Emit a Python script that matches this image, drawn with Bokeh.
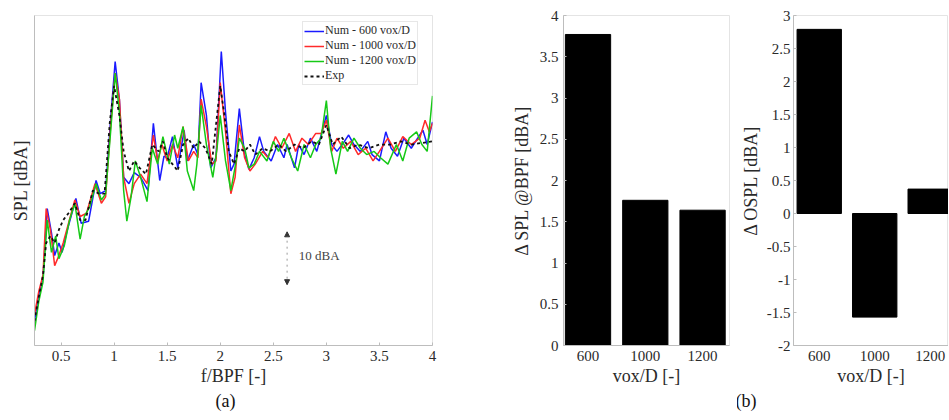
from bokeh.plotting import figure
from bokeh.layouts import row
from bokeh.models import (Range1d, FixedTicker, CustomJSTickFormatter, Legend, LegendItem,
                          Arrow, NormalHead, Label, Title)
from bokeh.embed import file_html
from bokeh.resources import INLINE

FONT = "Liberation Serif"

# ---------------- (a) spectra ----------------
f_600 = [0.25,0.29,0.33,0.37,0.41,0.44,0.48,0.51,0.56,0.64,0.69,0.76,0.83,0.87,0.92,0.97,1.01,1.05,1.09,1.14,
         1.19,1.25,1.32,1.37,1.43,1.47,1.50,1.55,1.60,1.66,1.69,1.75,1.79,1.82,1.87,1.91,1.96,2.01,2.05,2.10,
         2.13,2.18,2.23,2.27,2.32,2.37,2.41,2.48,2.54,2.60,2.63,2.70,2.74,2.79,2.85,2.91,3.00,3.05,3.10,3.17,
         3.21,3.26,3.32,3.39,3.43,3.50,3.56,3.61,3.67,3.73,3.80,3.86,3.91,3.95,4.00]
spl_600 = [44.6,49.6,52.7,65.9,61.3,57.0,59.4,57.6,61.9,67.8,63.1,63.5,71.2,68.7,69.3,83.5,93.7,86.5,71.8,70.6,
           72.7,71.8,69.3,82.0,71.2,75.8,75.5,79.5,73.6,80.7,74.9,78.0,76.1,89.7,83.5,73.6,75.5,95.6,84.1,73.0,
           74.3,84.8,76.1,73.3,75.5,79.5,76.7,74.9,78.0,75.5,78.0,73.6,78.0,76.1,79.2,76.7,83.5,78.0,76.7,78.6,
           79.8,78.0,76.7,78.6,76.1,74.9,80.4,77.3,75.8,79.2,77.3,79.2,80.7,78.0,82.3]

f_1000 = [0.25,0.29,0.33,0.36,0.40,0.44,0.48,0.52,0.57,0.63,0.68,0.74,0.82,0.88,0.92,0.97,1.01,1.05,1.09,1.14,
          1.19,1.25,1.31,1.37,1.41,1.45,1.50,1.55,1.60,1.65,1.70,1.75,1.79,1.82,1.87,1.92,1.96,2.00,2.05,2.10,
          2.14,2.18,2.23,2.28,2.33,2.40,2.45,2.52,2.58,2.65,2.71,2.77,2.83,2.90,2.95,3.00,3.05,3.10,3.16,3.23,
          3.30,3.37,3.44,3.50,3.58,3.65,3.72,3.80,3.88,3.93,3.97,4.00]
spl_1000 = [45.9,50.2,53.3,65.9,61.9,55.1,57.0,59.4,63.1,67.5,64.4,65.0,70.6,66.9,68.1,82.3,91.5,86.6,71.8,66.9,
            70.6,72.4,70.6,79.8,74.9,78.0,74.9,78.0,75.5,81.4,74.9,76.7,75.5,86.6,81.4,74.3,74.9,89.7,80.4,68.7,
            71.8,81.7,75.5,73.0,74.3,76.7,75.5,79.5,77.3,80.1,76.7,79.2,78.0,80.1,80.1,82.6,76.7,79.2,77.3,78.6,
            76.1,77.3,74.9,76.7,79.2,76.7,79.5,78.0,79.2,82.6,80.4,82.0]

f_1200 = [0.25,0.29,0.33,0.37,0.41,0.45,0.48,0.53,0.58,0.63,0.68,0.72,0.77,0.83,0.88,0.92,0.97,1.01,1.05,1.09,
          1.12,1.16,1.20,1.25,1.31,1.36,1.41,1.46,1.52,1.57,1.60,1.65,1.69,1.75,1.78,1.82,1.87,1.93,1.97,2.00,
          2.05,2.10,2.15,2.18,2.23,2.27,2.32,2.37,2.44,2.50,2.55,2.60,2.67,2.73,2.79,2.85,2.90,2.95,3.00,3.04,
          3.09,3.15,3.20,3.26,3.32,3.38,3.45,3.51,3.58,3.66,3.72,3.78,3.85,3.90,3.95,4.00]
spl_1200 = [42.8,48.3,52.0,63.7,57.6,60.7,56.4,58.8,63.7,66.9,60.1,64.4,66.2,70.6,67.5,68.7,81.1,91.5,84.1,69.3,
            63.5,68.1,74.9,71.8,67.2,77.3,74.3,79.5,74.3,79.8,77.3,81.4,73.0,69.3,74.3,85.4,78.0,71.8,77.3,83.5,
            74.9,69.3,74.9,79.2,77.3,73.6,74.3,76.7,74.9,78.6,76.7,79.2,75.5,73.0,78.0,75.5,78.0,79.2,86.3,77.3,
            72.4,78.6,76.7,79.2,77.3,76.1,76.7,75.5,74.3,78.0,74.9,79.2,80.4,78.0,76.7,87.2]

f_exp = [0.25,0.30,0.33,0.36,0.40,0.44,0.48,0.52,0.57,0.63,0.68,0.73,0.80,0.86,0.91,0.96,1.00,1.05,1.09,1.14,
         1.19,1.24,1.30,1.36,1.42,1.46,1.50,1.55,1.60,1.65,1.70,1.75,1.80,1.86,1.92,1.96,2.00,2.04,2.08,2.13,
         2.18,2.23,2.28,2.33,2.40,2.47,2.55,2.62,2.70,2.78,2.86,2.93,3.00,3.06,3.14,3.22,3.30,3.40,3.50,3.60,
         3.70,3.80,3.90,4.00]
spl_exp = [44.6,50.2,53.3,59.4,60.7,59.4,61.9,63.7,65.0,66.9,63.7,63.7,69.3,68.7,68.7,82.3,89.1,83.5,76.7,73.0,
           74.9,73.6,72.4,78.0,76.7,78.6,75.5,74.3,73.0,78.0,79.2,77.3,78.6,77.3,74.3,81.7,89.1,83.5,76.7,74.3,
           77.3,76.7,78.0,76.1,77.3,76.7,78.0,76.7,78.0,77.3,78.6,78.0,81.7,78.0,79.5,77.3,78.0,77.3,78.0,78.0,
           78.6,78.0,78.3,78.6]

series_labels = ["Num - 600 vox/D", "Num - 1000 vox/D", "Num - 1200 vox/D", "Exp"]
x_ticks_a = [0.5, 1, 1.5, 2, 2.5, 3, 3.5, 4]

# scale bar annotation (10 dBA)
bar_f = 2.63
bar_lo, bar_hi = 51.5, 61.5
bar_text = "10 dBA"

# ---------------- (b) bar charts ----------------
vox = ["600", "1000", "1200"]
d_spl_bpf = [3.77, 1.76, 1.64]
d_ospl = [2.79, -1.57, 0.37]
y_ticks_spl = [0, 0.5, 1, 1.5, 2, 2.5, 3, 3.5, 4]
y_ticks_ospl = [-2, -1.5, -1, -0.5, 0, 0.5, 1, 1.5, 2, 2.5, 3]

AXC = "#bdbdbd"
TXT = "#2a2a2a"
fmt_num = CustomJSTickFormatter(code="return String(tick);")


def style_axes(p, tick_size="15px", label_size="18px"):
    for ax in (p.xaxis[0], p.yaxis[0]):
        ax.axis_line_color = AXC
        ax.major_tick_line_color = AXC
        ax.major_tick_in = 3
        ax.major_tick_out = 0
        ax.minor_tick_line_color = None
        ax.major_label_text_font = FONT
        ax.major_label_text_font_size = tick_size
        ax.major_label_text_color = TXT
        ax.axis_label_text_font = FONT
        ax.axis_label_text_font_size = label_size
        ax.axis_label_text_font_style = "normal"
        ax.axis_label_text_color = TXT
    p.xgrid.visible = False
    p.ygrid.visible = False
    p.outline_line_color = "#e4e4e4"
    p.background_fill_color = "white"
    p.border_fill_color = "white"


def panel_title(text, offset):
    return Title(text=text, align="left", offset=offset, text_font=FONT, text_font_size="18px",
                 text_font_style="normal", text_color="#111111", standoff=0)


# ----- panel (a)
pa = figure(width=470, height=418, output_backend="svg", toolbar_location=None,
            x_range=Range1d(0.25, 4.0), y_range=Range1d(40, 102.4),
            min_border_left=34, min_border_right=38, min_border_top=8, min_border_bottom=73)
style_axes(pa)
pa.xaxis.ticker = FixedTicker(ticks=x_ticks_a)
pa.xaxis.formatter = fmt_num
pa.xaxis.axis_label = "f/BPF [-]"
pa.xaxis.axis_label_standoff = 2
pa.yaxis.ticker = FixedTicker(ticks=[])
pa.yaxis.axis_label = "SPL [dBA]"
pa.yaxis.axis_label_standoff = 4

r1 = pa.line(f_600, spl_600, line_color="#1a1aff", line_width=1.5)
r2 = pa.line(f_1000, spl_1000, line_color="#ff2a2a", line_width=1.5)
r3 = pa.line(f_1200, spl_1200, line_color="#16c916", line_width=1.5)
r4 = pa.line(f_exp, spl_exp, line_color="#111111", line_width=1.8, line_dash="3 3")

legend = Legend(items=[LegendItem(label=series_labels[i], renderers=[r]) for i, r in enumerate([r1, r2, r3, r4])],
                location=(268, 260))
legend.label_text_font = FONT
legend.label_text_font_size = "12px"
legend.label_text_color = TXT
legend.label_height = 14
legend.glyph_height = 14
legend.glyph_width = 20
legend.label_standoff = 1
legend.spacing = 0
legend.padding = 1
legend.margin = 0
legend.border_line_color = "#cfcfcf"
legend.background_fill_alpha = 1.0
pa.add_layout(legend)

pa.add_layout(Arrow(start=NormalHead(size=5, fill_color="#333333", line_color="#333333"),
                    end=NormalHead(size=5, fill_color="#333333", line_color="#333333"),
                    x_start=bar_f, y_start=bar_lo, x_end=bar_f, y_end=bar_hi,
                    line_color="#9a9a9a", line_width=1, line_dash="dotted"))
pa.add_layout(Label(x=bar_f + 0.11, y=(bar_lo + bar_hi) / 2 + 0.6, text=bar_text, text_font=FONT,
                    text_font_size="13px", text_color="#444444", text_baseline="middle"))
pa.add_layout(panel_title("(a)", 181), "below")

# ----- panel (b) left: delta SPL @ BPF
xpos = list(range(1, len(vox) + 1))
pb = figure(width=267, height=418, output_backend="svg", toolbar_location=None,
            x_range=Range1d(0.572, 3.47), y_range=Range1d(0, 4),
            min_border_left=93, min_border_right=8, min_border_top=15, min_border_bottom=72)
style_axes(pb)
pb.vbar(x=xpos, top=d_spl_bpf, bottom=0, width=0.79, fill_color="black", line_color="black")
pb.xaxis.ticker = FixedTicker(ticks=xpos)
pb.xaxis.major_label_overrides = {i: v for i, v in zip(xpos, vox)}
pb.xaxis.major_tick_line_color = None
pb.xaxis.axis_label = "vox/D [-]"
pb.xaxis.axis_label_standoff = 2
pb.yaxis.ticker = FixedTicker(ticks=y_ticks_spl)
pb.yaxis.formatter = fmt_num
pb.yaxis.axis_label = "\u0394 SPL @BPF [dBA]"
pb.yaxis.axis_label_standoff = 5

# ----- panel (b) right: delta OSPL
pc = figure(width=211, height=418, output_backend="svg", toolbar_location=None,
            x_range=Range1d(0.536, 3.33), y_range=Range1d(-2, 3),
            min_border_left=50, min_border_right=0, min_border_top=15, min_border_bottom=71)
style_axes(pc)
pc.vbar(x=xpos, top=d_ospl, bottom=0, width=0.8, fill_color="black", line_color="black")
pc.xaxis.ticker = FixedTicker(ticks=xpos)
pc.xaxis.major_label_overrides = {i: v for i, v in zip(xpos, vox)}
pc.xaxis.major_tick_line_color = None
pc.xaxis.axis_label = "vox/D [-]"
pc.xaxis.axis_label_standoff = 2
pc.yaxis.ticker = FixedTicker(ticks=y_ticks_ospl)
pc.yaxis.formatter = fmt_num
pc.yaxis.axis_label = "\u0394 OSPL [dBA]"
pc.yaxis.axis_label_standoff = 3
pc.yaxis.major_label_standoff = 3
pc.add_layout(panel_title("(b)", -58), "below")

layout = row(pa, pb, pc)
open("out.html", "w").write(file_html(layout, INLINE))
